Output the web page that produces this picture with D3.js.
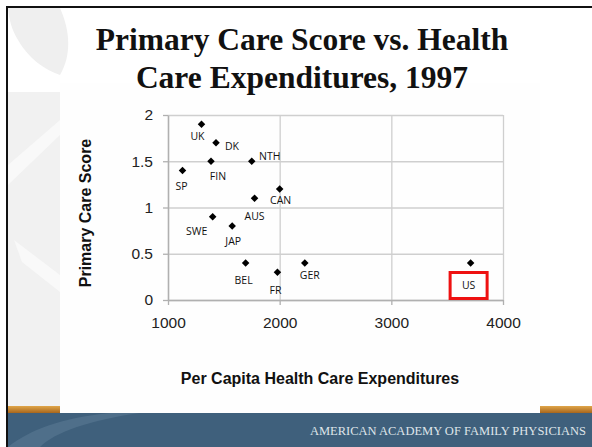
<!DOCTYPE html>
<html>
<head>
<meta charset="utf-8">
<script src="https://cdn.jsdelivr.net/npm/d3@7"></script>
<style>
  body { margin: 0; background: #fff; }
  svg { display: block; }
</style>
</head>
<body>
<div id="chart"></div>
<script>
// data
const countries = ['UK', 'DK', 'FIN', 'NTH', 'SP', 'CAN', 'AUS', 'SWE', 'JAP', 'BEL', 'FR', 'GER', 'US']
const spending = [1300, 1430, 1385, 1750, 1130, 2000, 1775, 1400, 1575, 1695, 1980, 2225, 3710]
const scores = [1.9, 1.7, 1.5, 1.5, 1.4, 1.2, 1.1, 0.9, 0.8, 0.4, 0.3, 0.4, 0.4]
const xTicks = [1000, 2000, 3000, 4000]
const yTicks = [0, 0.5, 1, 1.5, 2]
const titleLines = ['Primary Care Score vs. Health', 'Care Expenditures, 1997']
const highlighted = 'US'

// hand placed label offsets (px from marker), like the original slide
const labelOffset = {
  UK: [-4, 12], DK: [16, 3], FIN: [7, 15], NTH: [18, -5], SP: [-1, 15],
  CAN: [1, 11], AUS: [0, 18], SWE: [-16, 14], JAP: [1, 15], BEL: [-2, 17],
  FR: [-2, 18], GER: [5, 12], US: [-2, 22]
}

const W = 592, H = 447
const svg = d3.select('#chart').append('svg')
  .attr('width', W)
  .attr('height', H)

// --- slide background ---
svg.append('rect').attr('width', W).attr('height', H).attr('fill', '#fff')

// light grey swirl on the left side
svg.append('path')
  .attr('d', 'M8,8 L60,8 C70,30 72,55 60,75 C45,70 28,58 18,40 C12,30 9,20 8,8 Z')
  .attr('fill', '#efefef')
svg.append('rect').attr('x', 8).attr('y', 92).attr('width', 52).attr('height', 316).attr('fill', '#f1f1f1')
svg.append('path')
  .attr('d', 'M8,165 L60,120 L60,135 L8,185 Z M14,240 L60,275 L60,292 L22,262 Z')
  .attr('fill', '#f9f9f9')

// footer band
const grad = svg.append('defs').append('linearGradient').attr('id', 'gold')
  .attr('x1', 0).attr('x2', 0).attr('y1', 0).attr('y2', 1)
grad.append('stop').attr('offset', '0%').attr('stop-color', '#e0a64a')
grad.append('stop').attr('offset', '100%').attr('stop-color', '#a8661c')
svg.append('rect').attr('x', 8).attr('y', 406).attr('width', W - 8).attr('height', 7).attr('fill', 'url(#gold)')
svg.append('rect').attr('x', 8).attr('y', 413).attr('width', W - 8).attr('height', H - 413).attr('fill', '#3f607c')
svg.append('path')
  .attr('d', 'M8,447 C30,430 60,418 110,413 L140,413 C90,420 55,432 40,447 Z')
  .attr('fill', '#4f6f8a')
svg.append('text')
  .attr('x', 586).attr('y', 435)
  .attr('text-anchor', 'end')
  .attr('font-family', 'Liberation Serif, serif')
  .attr('font-size', 12.5)
  .attr('fill', '#dfe5ea')
  .text('AMERICAN ACADEMY OF FAMILY PHYSICIANS')

// slide frame (top and left black edges)
svg.append('rect').attr('x', 6).attr('y', 6).attr('width', W - 6).attr('height', 2).attr('fill', '#111')
svg.append('rect').attr('x', 6).attr('y', 6).attr('width', 2).attr('height', H - 6).attr('fill', '#111')

// white chart panel
svg.append('rect').attr('x', 60).attr('y', 83).attr('width', 480).attr('height', 330).attr('fill', '#fefefe')

// title
svg.append('g').selectAll('text')
  .data(titleLines)
  .join('text')
  .attr('x', 302)
  .attr('y', (d, i) => 50 + i * 38)
  .attr('text-anchor', 'middle')
  .attr('font-family', 'Liberation Serif, serif')
  .attr('font-weight', 'bold')
  .attr('font-size', 31.5)
  .attr('fill', '#111')
  .text(d => d)

// --- scatter plot ---
const plot = { left: 168, right: 503, top: 115, bottom: 300 }
const x = d3.scaleLinear().domain([1000, 4000]).range([plot.left, plot.right])
const y = d3.scaleLinear().domain([0, 2]).range([plot.bottom, plot.top])

// gridlines
const grid = svg.append('g')
grid.append('g')
  .attr('transform', `translate(0,${plot.bottom})`)
  .call(d3.axisBottom(x).tickValues(xTicks).tickSize(-(plot.bottom - plot.top)).tickFormat(''))
  .call(g => g.select('.domain').remove())
grid.append('g')
  .attr('transform', `translate(${plot.left},0)`)
  .call(d3.axisLeft(y).tickValues(yTicks).tickSize(-(plot.right - plot.left)).tickFormat(''))
  .call(g => g.select('.domain').remove())
grid.selectAll('line').attr('stroke', '#cfcfcf').attr('stroke-width', 1.3)

// axes
const xAxis = svg.append('g')
  .attr('transform', `translate(0,${plot.bottom})`)
  .call(d3.axisBottom(x).tickValues(xTicks).tickSize(5).tickSizeOuter(0).tickPadding(12).tickFormat(d3.format('d')))
const yAxis = svg.append('g')
  .attr('transform', `translate(${plot.left},0)`)
  .call(d3.axisLeft(y).tickValues(yTicks).tickSize(5).tickSizeOuter(0).tickPadding(10).tickFormat(d => String(d)))

for (const ax of [xAxis, yAxis]) {
  ax.select('.domain').attr('stroke', '#b0b0b0').attr('stroke-width', 1.5)
  ax.selectAll('.tick line').attr('stroke', '#b0b0b0').attr('stroke-width', 1.3)
  ax.selectAll('.tick text')
    .attr('font-family', 'Liberation Sans, Arial, sans-serif')
    .attr('font-size', 15.5)
    .attr('fill', '#222')
}

// axis titles
svg.append('text')
  .attr('x', 320).attr('y', 384)
  .attr('text-anchor', 'middle')
  .attr('font-family', 'Liberation Sans, Arial, sans-serif')
  .attr('font-weight', 'bold')
  .attr('font-size', 16)
  .attr('fill', '#111')
  .text('Per Capita Health Care Expenditures')
svg.append('text')
  .attr('transform', 'translate(91,213) rotate(-90)')
  .attr('text-anchor', 'middle')
  .attr('font-family', 'Liberation Sans, Arial, sans-serif')
  .attr('font-weight', 'bold')
  .attr('font-size', 16)
  .attr('fill', '#111')
  .text('Primary Care Score')

const points = countries.map((c, i) => ({ name: c, spend: spending[i], score: scores[i] }))

// markers
svg.append('g').selectAll('path')
  .data(points)
  .join('path')
  .attr('transform', d => `translate(${x(d.spend)},${y(d.score)})`)
  .attr('d', d3.symbol().type(d3.symbolDiamond2).size(36))
  .attr('fill', '#000')

// data labels
svg.append('g').selectAll('text')
  .data(points)
  .join('text')
  .attr('x', d => x(d.spend) + labelOffset[d.name][0])
  .attr('y', d => y(d.score) + labelOffset[d.name][1])
  .attr('text-anchor', 'middle')
  .attr('dominant-baseline', 'central')
  .attr('font-family', 'Open Sans, sans-serif')
  .attr('font-size', 10.5)
  .attr('fill', '#111')
  .text(d => d.name)

// red box around the US label
const us = points.find(d => d.name === highlighted)
svg.append('rect')
  .attr('x', x(us.spend) + labelOffset.US[0] - 18.5)
  .attr('y', y(us.score) + labelOffset.US[1] - 12.5)
  .attr('width', 37)
  .attr('height', 26)
  .attr('fill', 'none')
  .attr('stroke', '#ee1111')
  .attr('stroke-width', 3)
</script>
</body>
</html>
